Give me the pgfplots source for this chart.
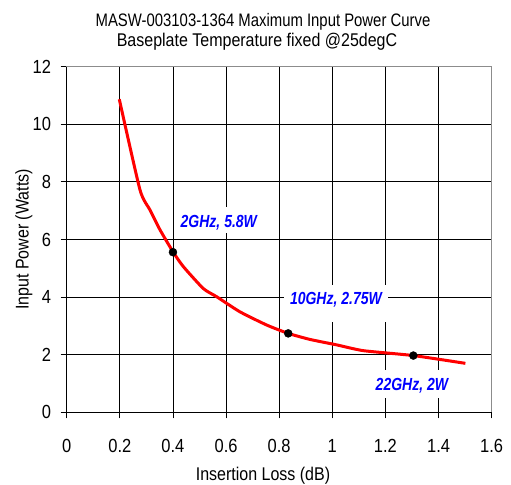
\documentclass[border=0pt]{standalone}
\usepackage{pgfplots}
\pgfplotsset{compat=1.18}
\usepackage{fontspec}
\setmainfont{Liberation Sans}
\newcommand\V[1]{\scalebox{1}[1.15]{#1}}
\newcommand\VA[1]{\scalebox{1}[1.25]{#1}}
\begin{document}
\begin{tikzpicture}
\path[use as bounding box] (-66.7bp,-72.7bp) rectangle (444.3bp,412.3bp);
\begin{axis}[
  at={(0,0)}, anchor=south west,
  scale only axis,
  width=425bp, height=345.6bp,
  xmin=0, xmax=1.6, ymin=0, ymax=12,
  xtick={0,0.2,...,1.6}, ytick={0,2,...,12},
  xticklabels={\V{0},\V{0.2},\V{0.4},\V{0.6},\V{0.8},\V{1},\V{1.2},\V{1.4},\V{1.6}},
  yticklabels={\V{0},\V{2},\V{4},\V{6},\V{8},\V{10},\V{12}},
  xtick pos=bottom, ytick pos=left,
  tick align=outside,
  major tick length=6bp,
  tick style={black, line width=0.8bp},
  grid=major,
  major grid style={black, line width=0.8bp},
  axis line style={gray!90, line width=1.2bp},
  ticklabel style={font=\fontsize{16.5bp}{18bp}\selectfont},
  xticklabel style={yshift=-17.5bp},
  yticklabel style={xshift=-6.2bp},
  xlabel={\V{Insertion Loss (dB)}},
  ylabel={\V{Input Power (Watts)}},
  label style={font=\fontsize{16bp}{18bp}\selectfont},
  xlabel style={at={(axis description cs:0.4619,-0.1959)}, anchor=base},
  ylabel style={at={(axis description cs:-0.1005,0.5)}, anchor=center, rotate=0},
  clip=false,
]
\addplot[red, line width=3bp, smooth, tension=0.35] coordinates {
(0.198,10.87) (0.276,7.72) (0.314,7.02) (0.351,6.34) (0.401,5.56)
(0.439,5.06) (0.514,4.30) (0.565,4.01) (0.652,3.49) (0.753,3.03)
(0.834,2.74) (0.916,2.53) (1.017,2.34) (1.117,2.14) (1.305,1.97)
(1.501,1.70)
};
\addplot[only marks, mark=*, mark size=4bp, black] coordinates {
(0.400,5.56) (0.834,2.74) (1.305,1.97)
};
\draw[black, line width=1.2bp] (rel axis cs:0,1) -- (rel axis cs:0,0) -- (rel axis cs:1,0);
\begin{scope}[every node/.style={fill=white, inner xsep=6bp, inner ysep=0pt, outer sep=0pt,
   text=blue, font=\fontsize{14bp}{16bp}\selectfont\bfseries\itshape, anchor=base west}]
\node[text height=20bp, text depth=6.3bp] at (axis cs:0.4066,6.434) {\VA{2GHz, 5.8W}};
\node[text height=20bp, text depth=16.7bp] at (axis cs:0.8182,3.726) {\VA{10GHz, 2.75W}};
\node[text height=20bp, text depth=8.3bp] at (axis cs:1.1408,0.774) {\VA{22GHz, 2W}};
\end{scope}
\end{axis}
\node[anchor=base, font=\fontsize{16bp}{18bp}\selectfont] at (196.3bp,385.6bp) {\scalebox{0.93}[1.13]{MASW-003103-1364 Maximum Input Power Curve}};
\node[anchor=base, font=\fontsize{16bp}{18bp}\selectfont] at (190.3bp,365.6bp) {\V{Baseplate Temperature fixed @25degC}};
\end{tikzpicture}
\end{document}
